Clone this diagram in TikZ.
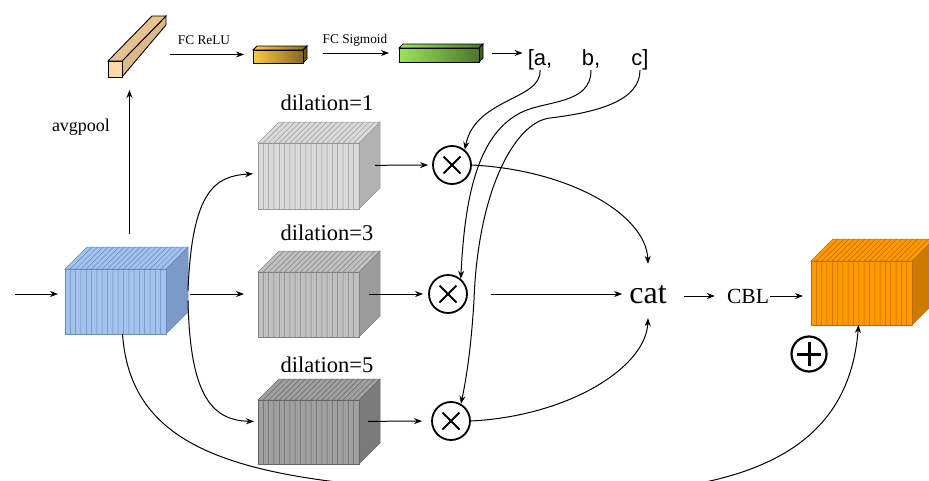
\documentclass[tikz,border=0pt]{standalone}
\usepackage{fontspec}
\setmainfont{Liberation Serif}
\newfontfamily\arialf{Liberation Sans}
\usetikzlibrary{arrows.meta}
\definecolor{blueF}{RGB}{164,194,238}
\definecolor{blueS}{RGB}{124,154,200}
\definecolor{blueL}{RGB}{105,135,185}
\definecolor{grayAF}{RGB}{218,218,218}
\definecolor{grayAS}{RGB}{178,178,178}
\definecolor{grayAL}{RGB}{150,150,150}
\definecolor{grayBF}{RGB}{192,192,192}
\definecolor{grayBS}{RGB}{155,155,155}
\definecolor{grayBL}{RGB}{128,128,128}
\definecolor{grayCF}{RGB}{160,160,160}
\definecolor{grayCS}{RGB}{122,122,122}
\definecolor{grayCL}{RGB}{100,100,100}
\definecolor{orF}{RGB}{255,153,0}
\definecolor{orS}{RGB}{205,122,0}
\definecolor{orL}{RGB}{190,105,0}
\definecolor{tanF}{RGB}{252,216,162}
\definecolor{tanS}{RGB}{220,186,136}
\definecolor{yelA}{RGB}{250,204,64}
\definecolor{yelB}{RGB}{138,104,32}
\definecolor{grnA}{RGB}{156,228,92}
\definecolor{grnB}{RGB}{74,118,44}
% name, x, y, w, h, d, front, side, line
\newcommand\stripcube[9]{%
  \filldraw[fill=#8,draw=#9,line width=0.5pt] (#2+#4,#3) -- ++(#6,-#6) -- ++(0,#5) -- ++(-#6,#6) -- cycle;
  \filldraw[fill=#7,draw=#9,line width=0.5pt] (#2,#3) -- ++(#6,-#6) -- ++(#4,0) -- ++(-#6,#6) -- cycle;
  \filldraw[fill=#7,draw=#9,line width=0.5pt] (#2,#3) rectangle ++(#4,#5);
  \foreach \k in {1,...,18} {\draw[#9,line width=0.5pt] (#2+\k*#4/19,#3) -- ++(0,#5) (#2+\k*#4/19,#3) -- ++(#6,-#6);}
  \node[inner sep=0pt,outer sep=0pt,minimum width=#4pt+#6pt,minimum height=#5pt+#6pt,anchor=south west] (#1) at (#2,#3+#5) {};
}
% name, x, y, w, h, d, left colour, right colour
\newcommand\gradbar[8]{%
  \shadedraw[left color=#7,right color=#8,draw=black,line width=0.9pt] (#2,#3) -- ++(#6,-#6) -- ++(#4,0) -- ++(-#6,#6) -- cycle;
  \filldraw[fill=#8!80!black,draw=black,line width=0.9pt] (#2+#4,#3) -- ++(#6,-#6) -- ++(0,#5) -- ++(-#6,#6) -- cycle;
  \shadedraw[left color=#7,right color=#8,draw=black,line width=0.9pt] (#2,#3) rectangle ++(#4,#5);
  \node[inner sep=0pt,outer sep=0pt,minimum width=#4pt+#6pt,minimum height=#5pt+#6pt,anchor=south west] (#1) at (#2,#3+#5) {};
}
\begin{document}
\begin{tikzpicture}[x=1pt,y=-1pt,
  conn/.style={-{Stealth[length=8pt,width=6pt]}, line width=1pt},
  opc/.style={circle,draw,line width=1.8pt,minimum size=38pt,inner sep=0pt},
  otimesc/.style={opc,path picture={\draw[line width=1.8pt]
     ([shift={(-8.5pt,-8.5pt)}]path picture bounding box.center) -- ([shift={(8.5pt,8.5pt)}]path picture bounding box.center)
     ([shift={(-8.5pt,8.5pt)}]path picture bounding box.center) -- ([shift={(8.5pt,-8.5pt)}]path picture bounding box.center);}},
  opluscirc/.style={circle,draw,line width=2.2pt,minimum size=35pt,inner sep=0pt,path picture={\draw[line width=3pt]
     ([shift={(-12pt,0pt)}]path picture bounding box.center) -- ([shift={(12pt,0pt)}]path picture bounding box.center)
     ([shift={(0pt,-12pt)}]path picture bounding box.center) -- ([shift={(0pt,12pt)}]path picture bounding box.center);}},
  dil/.style={font=\fontsize{22.5}{27}\selectfont},
  small/.style={font=\fontsize{13.3}{16}\selectfont},
  abc/.style={font=\arialf\fontsize{22}{26}\selectfont,inner sep=1pt,text depth=4pt,anchor=base}]
\useasboundingbox (0,0) rectangle (929,480);
\clip (0,0) rectangle (929,480);

% cubes
\stripcube{blue}{65}{269}{101}{65}{22}{blueF}{blueS}{blueL}
\stripcube{g1}{258}{143}{101}{66}{21}{grayAF}{grayAS}{grayAL}
\stripcube{g2}{258}{272}{101}{65}{21}{grayBF}{grayBS}{grayBL}
\stripcube{g3}{258}{400}{101}{64}{21}{grayCF}{grayCS}{grayCL}
\stripcube{orange}{811}{261}{101}{64}{22}{orF}{orS}{orL}

% tan bar
\filldraw[fill=tanS,draw=black,line width=0.9pt] (122,61) -- (166,16) -- (166,25) -- (122,77) -- cycle;
\filldraw[fill=tanS!70!tanF,draw=black,line width=0.9pt] (108,61) -- (152,16) -- (166,16) -- (122,61) -- cycle;
\filldraw[fill=tanF,draw=black,line width=0.9pt] (108,61) rectangle (122,77);
\node[inner sep=0pt,outer sep=0pt,minimum width=58pt,minimum height=61pt,anchor=north west] (tan) at (108,16) {};

% gradient bars
\gradbar{yel}{253}{50}{50}{13}{4}{yelA}{yelB}
\gradbar{grn}{399}{48}{80}{14}{4}{grnA}{grnB}

% labels
\node[small] (fcr) at (204,40) {FC ReLU};
\node[small] (fcs) at (355,40) {FC Sigmoid};
\node[font=\fontsize{18}{22}\selectfont] (avg) at (81,127) {avgpool};
\node[dil] (d1) at (327,103) {dilation=1};
\node[dil] (d3) at (327,233) {dilation=3};
\node[dil] (d5) at (327,365) {dilation=5};
\node[abc] (la) at (540,65) {[a,};
\node[abc] (lb) at (591,65) {b,};
\node[abc] (lc) at (640,65) {c]};
\node[font=\fontsize{32}{36}\selectfont,inner xsep=7pt,inner ysep=0pt,text height=39pt,text depth=15pt,anchor=base] (cat) at (648,303) {cat};
\node[font=\fontsize{21.6}{26}\selectfont,inner xsep=1pt] (cbl) at (748,296) {CBL};

% operator circles
\node[otimesc] (m1) at (452,165) {};
\node[otimesc] (m2) at (448,294) {};
\node[otimesc] (m3) at (451,421) {};
\node[opluscirc] (pl) at (809,354) {};

% top row
\coordinate (inp) at (15,294);
\draw[conn,shorten >=7pt] (inp) -- (inp -| blue.west);
\draw[conn,shorten <=13pt,shorten >=13pt] ([xshift=3pt]blue.north) -- ([xshift=3pt]blue.north |- tan.south);
\draw[conn,shorten <=4pt,shorten >=9pt] (tan.east |- yel) -- (yel.west);
\draw[conn,shorten <=16pt,shorten >=10pt] (yel.east |- grn) -- (grn.west);
\draw[conn,shorten <=9pt,shorten >=4pt] (grn.east) -- (grn.east -| la.west);

% branches from input cube
\draw[conn,shorten >=5pt] (blue.east) .. controls +(4,-100) and +(-43,2.5) .. ([yshift=-8pt]g1.west);
\draw[conn,shorten <=2pt,shorten >=14pt] (blue.east |- g2) -- (g2.west);
\draw[conn,shorten >=4pt] ([yshift=-10pt]blue.east) .. controls +(2,90) and +(-49,-1) .. (g3.west);

% cubes to multipliers
\draw[conn,shorten <=-5pt,shorten >=4pt] (g1) -- (m1);
\draw[conn,shorten <=-11pt,shorten >=5pt] (g2) -- (m2);
\draw[conn,shorten <=-12pt,shorten >=9pt] (g3) -- (m3);

% weights a, b, c
\draw[conn] (la.south) .. controls (542,100) and (475,98) .. (m1.50);
\draw[conn] (lb.south) .. controls (591,105) and (545,100) .. (520,113) .. controls (480,134) and (465,190) .. (m2.50);
\draw[conn] (lc.south) .. controls (640,100) and (600,112) .. (550,118) .. controls (515,122) and (478,190) .. (474,300) .. controls (471,350) and (466,380) .. (m3.60);

% to cat
\draw[conn] (m1.east) .. controls +(98,5) and +(-2,-49) .. (cat.north);
\draw[conn,shorten <=23pt] (m2) -- (m2 -| cat.west);
\draw[conn] (m3.east) .. controls +(98,-5) and +(-2,49) .. (cat.south);

% cat -> CBL -> output
\draw[conn,shorten <=10pt,shorten >=11pt] (cat.east |- cbl) -- (cbl.west);
\draw[conn,shorten >=8pt] (cbl.east) -- (cbl.east -| orange.west);

% skip connection
\draw[conn] ([xshift=-4pt]blue.south) .. controls (130,440) and (220,475) .. (400,488) .. controls (650,505) and (845,500) .. ([xshift=-14pt]orange.south);
\end{tikzpicture}
\end{document}
